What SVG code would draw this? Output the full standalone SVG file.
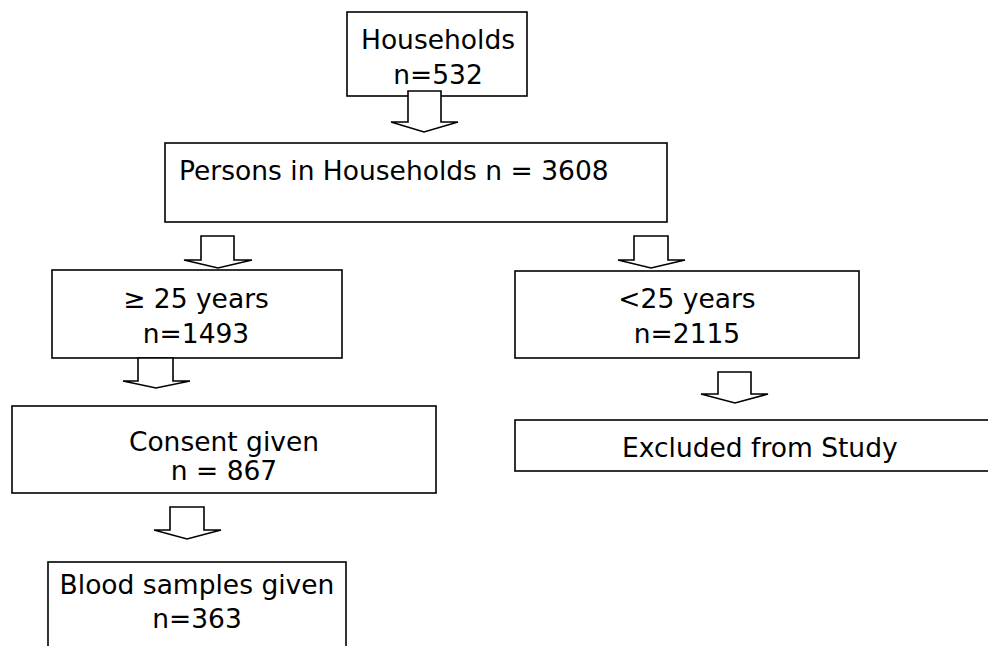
<svg xmlns="http://www.w3.org/2000/svg" width="988" height="646" viewBox="0 0 988 646">
<style>
.box{fill:#fff;stroke:#000;stroke-width:1.6}
.arr{fill:#fff;stroke:#000;stroke-width:1.6;stroke-linejoin:miter}
text{font-family:"DejaVu Sans","Verdana",sans-serif;font-size:26.5px;fill:#000}
.c{text-anchor:middle}
</style>
<rect width="988" height="646" fill="#fff"/>
<g id="n-households">
<rect class="box" x="347" y="12" width="180" height="84"/>
<text class="c" x="438" y="49">Households</text>
<text class="c" x="438" y="84">n=532</text>
</g>
<g id="n-persons">
<rect class="box" x="165" y="143" width="502" height="79"/>
<text x="179" y="180">Persons in Households n = 3608</text>
</g>
<g id="n-over25">
<rect class="box" x="52" y="270" width="290" height="88"/>
<text class="c" x="196" y="308">≥ 25 years</text>
<text class="c" x="196" y="343">n=1493</text>
</g>
<g id="n-under25">
<rect class="box" x="515" y="271" width="344" height="87"/>
<text class="c" x="687" y="308">&lt;25 years</text>
<text class="c" x="687" y="343">n=2115</text>
</g>
<g id="n-excluded">
<rect class="box" x="515" y="420" width="490" height="51"/>
<text x="622" y="457">Excluded from Study</text>
</g>
<g id="n-consent">
<rect class="box" x="12" y="406" width="424" height="87"/>
<text class="c" x="224" y="451">Consent given</text>
<text class="c" x="224" y="480">n = 867</text>
</g>
<g id="n-blood">
<rect class="box" x="48" y="562" width="298" height="100"/>
<text class="c" x="197" y="594">Blood samples given</text>
<text class="c" x="197" y="628">n=363</text>
</g>
<g id="connectors">
<polygon class="arr" points="408,91 441,91 441,122 458,122 424,132 391,122 408,122"/>
<polygon class="arr" points="201,236 234,236 234,260 252,260 218,268 184,260 201,260"/>
<polygon class="arr" points="634,236 668,236 668,260 685,260 651,268 618,260 634,260"/>
<polygon class="arr" points="138,358 173,358 173,381 190,381 156,388 123,381 138,381"/>
<polygon class="arr" points="718,372 751,372 751,394 768,394 735,403 701,394 718,394"/>
<polygon class="arr" points="170,507 204,507 204,530 221,530 187,539 154,530 170,530"/>
</g>
</svg>
